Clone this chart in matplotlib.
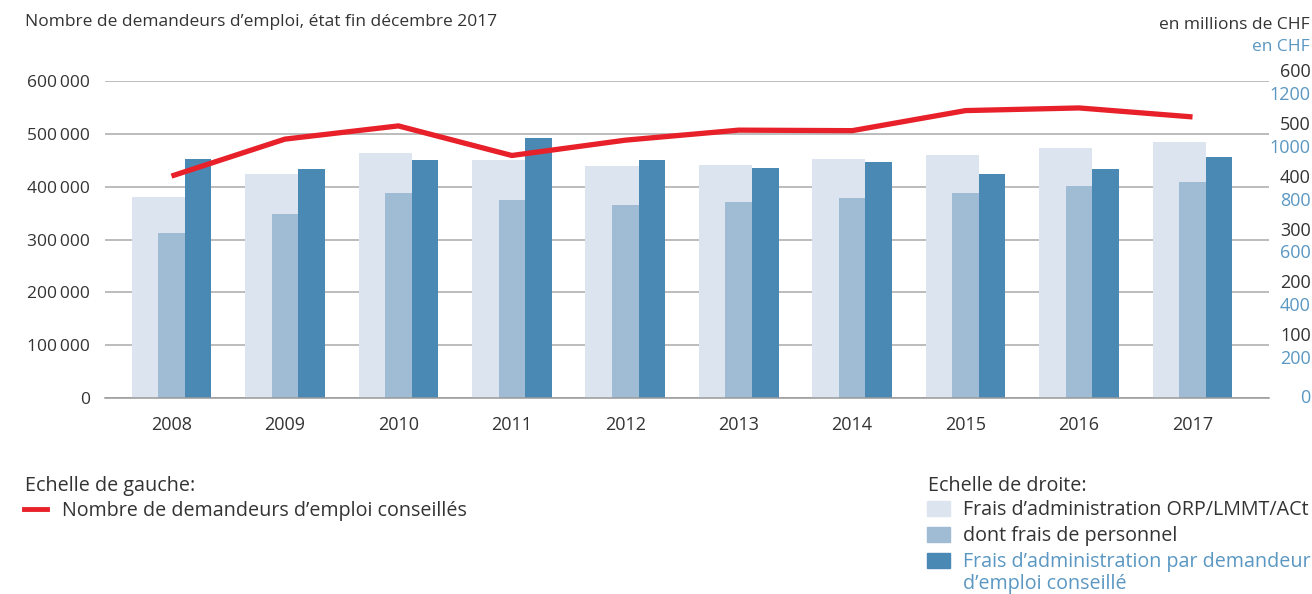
import numpy as np
import matplotlib.pyplot as plt
import matplotlib as mpl
from matplotlib.ticker import FuncFormatter, FixedLocator
from matplotlib.transforms import ScaledTranslation
from matplotlib.patches import Patch
from matplotlib.lines import Line2D

mpl.rcParams.update({
    "font.family": ["Open Sans", "DejaVu Sans"],
    "text.color": "#333333",
    "xtick.color": "#333333",
    "ytick.color": "#333333",
})

# ---------------------------------------------------------------- data
years = ["2008", "2009", "2010", "2011", "2012",
         "2013", "2014", "2015", "2016", "2017"]
# left scale: advised job seekers
seekers = [420000, 490000, 515000, 459000, 488000,
           507000, 506000, 544000, 549000, 532000]
# right scale (millions CHF)
admin_costs = [381, 424, 464, 451, 439, 441, 453, 460, 473, 485]
staff_costs = [312, 348, 388, 375, 365, 371, 379, 388, 401, 409]
# right scale (CHF per advised job seeker)
cost_per_seeker = [905, 867, 901, 985, 901, 871, 894, 848, 867, 913]

left_ticks = [0, 100000, 200000, 300000, 400000, 500000, 600000]
mio_ticks = [0, 100, 200, 300, 400, 500, 600]
chf_ticks = [0, 200, 400, 600, 800, 1000, 1200]

C_LIGHT = "#dbe4ef"
C_MID = "#a0bcd5"
C_DARK = "#4a89b3"
C_RED = "#e8202a"
C_BLUE_TXT = "#5a97c2"
C_GRID = "#aaaaaa"

# ---------------------------------------------------------------- figure
fig = plt.figure(figsize=(13.12, 5.94), dpi=100)
ax = fig.add_axes([105 / 1312, 1 - 398 / 594, (1269 - 105) / 1312, (398 - 81) / 594])
ax_mio = ax.twinx()
ax_chf = ax.twinx()
ax_mio.set_zorder(1)
ax_chf.set_zorder(2)
ax.set_zorder(3)
for a in (ax, ax_mio, ax_chf):
    a.patch.set_visible(False)
    for s in a.spines.values():
        s.set_visible(False)

x = np.arange(len(years))
w = 0.234

ax_mio.bar(x - 0.5 * w, admin_costs, width=2 * w, color=C_LIGHT, zorder=2)
ax_mio.bar(x, staff_costs, width=w, color=C_MID, zorder=3)
ax_chf.bar(x + w, cost_per_seeker, width=w, color=C_DARK, zorder=2)
ax.plot(x, seekers, color=C_RED, lw=3.8, solid_capstyle="butt",
        solid_joinstyle="miter", zorder=5)

ax.set_xlim(-0.586, 9.674)
ax.set_ylim(0, 600000)
ax_mio.set_ylim(0, 600)
ax_chf.set_ylim(0, 1200)

# gridlines behind the bars
ax_mio.yaxis.set_major_locator(FixedLocator(mio_ticks))
ax_mio.yaxis.grid(True, color=C_GRID, lw=1.1)
ax_mio.set_axisbelow(True)
ax.spines["bottom"].set_visible(True)
ax.spines["bottom"].set_color("#999999")
ax.spines["bottom"].set_linewidth(1.1)

# left axis
ax.set_yticks(left_ticks)
ax.yaxis.set_major_formatter(FuncFormatter(
    lambda v, _p: "0" if v == 0 else f"{int(v):,}".replace(",", "\u2009")))
ax.tick_params(axis="y", length=0, pad=11, labelsize=12.5)
ax.set_xticks(x)
ax.set_xticklabels(years)
ax.tick_params(axis="x", length=0, pad=13, labelsize=13)

# right axes: millions above the gridline, CHF below it
ax_mio.set_yticklabels([""] + [str(v) for v in mio_ticks[1:]])
ax_mio.tick_params(axis="y", length=0, pad=30, labelsize=13)
for lab in ax_mio.get_yticklabels():
    lab.set_ha("right")
    lab.set_va("center")
    lab.set_transform(lab.get_transform() + ScaledTranslation(0, 9 / 100, fig.dpi_scale_trans))
ax_chf.set_yticks(chf_ticks)
ax_chf.set_yticklabels([str(v) for v in chf_ticks])
ax_chf.tick_params(axis="y", length=0, pad=30, labelsize=13,
                   labelcolor=C_BLUE_TXT)
for i, lab in enumerate(ax_chf.get_yticklabels()):
    lab.set_ha("right")
    lab.set_va("center")
    if i > 0:
        lab.set_transform(lab.get_transform() + ScaledTranslation(0, -14 / 100, fig.dpi_scale_trans))

# headers
fig.text(25 / 1312, 1 - 22 / 594, "Nombre de demandeurs d\u2019emploi, état fin décembre 2017",
         fontsize=12.5, ha="left", va="center")
fig.text(1310 / 1312, 1 - 25 / 594, "en millions de CHF",
         fontsize=12.5, ha="right", va="center")
fig.text(1310 / 1312, 1 - 47 / 594, "en CHF",
         fontsize=12.5, ha="right", va="center", color=C_BLUE_TXT)

# legends
fig.text(25 / 1312, 1 - 486 / 594, "Echelle de gauche:", fontsize=14.2,
         ha="left", va="center")
fig.text(928 / 1312, 1 - 486 / 594, "Echelle de droite:", fontsize=14.2,
         ha="left", va="center")

leg_l = fig.legend(
    handles=[Line2D([], [], color=C_RED, lw=3.5)],
    labels=["Nombre de demandeurs d\u2019emploi conseillés"],
    loc="center left", bbox_to_anchor=(24 / 1312, 1 - 511 / 594), frameon=False,
    fontsize=14.2, handlelength=1.17, handleheight=0.8, handletextpad=0.75,
    borderaxespad=0, borderpad=0)

leg_r = fig.legend(
    handles=[Patch(color=C_LIGHT), Patch(color=C_MID), Patch(color=C_DARK)],
    labels=["Frais d\u2019administration ORP/LMMT/ACt",
            "dont frais de personnel",
            "Frais d\u2019administration par demandeur"],
    loc="center left", bbox_to_anchor=(927 / 1312, 1 - 536 / 594), frameon=False,
    fontsize=14.2, handlelength=1.17, handleheight=0.8, handletextpad=0.65,
    labelspacing=0.3, borderaxespad=0, borderpad=0)
leg_r.get_texts()[2].set_color(C_BLUE_TXT)
fig.text(963 / 1312, 1 - 584 / 594, "d\u2019emploi conseillé", fontsize=14.2,
         ha="left", va="center", color=C_BLUE_TXT)

fig.savefig("out.png", dpi=100)
